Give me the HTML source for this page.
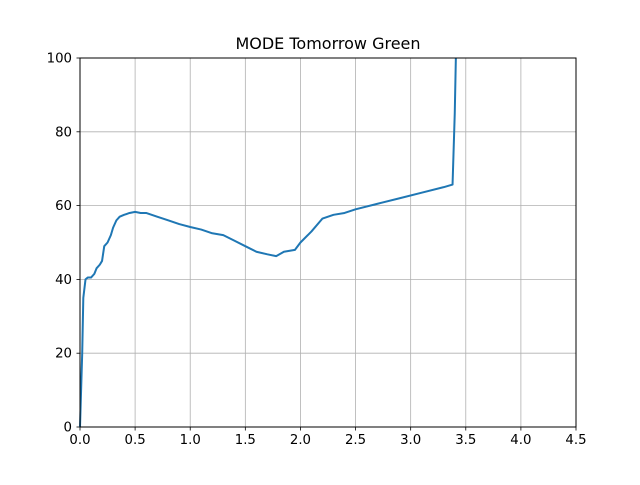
<!DOCTYPE html>
<html><head><meta charset="utf-8"><style>
body{margin:0;background:#fff;}
svg text{font-family:"DejaVu Sans","Liberation Sans",sans-serif;}
</style></head><body>
<svg id="chart" width="640" height="480" viewBox="0 0 640 480">
<rect width="640" height="480" fill="#fff"/>
<text x="328" y="49" text-anchor="middle" font-size="16">MODE Tomorrow Green</text>
<g id="grid"></g>
<g id="ticks"></g>
<polyline id="line" fill="none" stroke="#1f77b4" stroke-width="2" stroke-linejoin="round"/>
<rect x="80" y="58" width="496" height="369" fill="none" stroke="#000" stroke-width="1"/>
</svg>
<script>
const xTicks=[0,0.5,1,1.5,2,2.5,3,3.5,4,4.5];
const xTickLabels=["0.0","0.5","1.0","1.5","2.0","2.5","3.0","3.5","4.0","4.5"];
const yTicks=[0,20,40,60,80,100];
const xVals=[0,0.02,0.03,0.05,0.07,0.1,0.13,0.15,0.18,0.2,0.22,0.25,0.28,0.3,0.33,0.36,0.4,0.45,0.5,0.55,0.6,0.65,0.7,0.8,0.9,1.0,1.1,1.2,1.3,1.4,1.5,1.6,1.7,1.78,1.85,1.95,2.0,2.1,2.2,2.3,2.4,2.5,2.7,2.9,3.1,3.3,3.38,3.4,3.41];
const yVals=[0,20,35,40,40.5,40.5,41.5,43,44,45,49,50,52,54,56,57,57.5,58,58.3,58,58,57.5,57,56,55,54.2,53.5,52.5,52,50.5,49,47.5,46.8,46.3,47.5,48,50,53,56.5,57.5,58,59,60.5,62,63.5,65,65.7,85,100];
const X=v=>80+v/4.5*496, Y=v=>427-v/100*369;
const ns="http://www.w3.org/2000/svg";
const grid=document.getElementById('grid'), ticks=document.getElementById('ticks');
function mk(tag,attrs,parent){const e=document.createElementNS(ns,tag);for(const k in attrs)e.setAttribute(k,attrs[k]);parent.appendChild(e);return e;}
xTicks.forEach((t,i)=>{
 const gl=mk('line',{x1:X(t),x2:X(t),y1:58,y2:427,stroke:'#b0b0b0','stroke-width':0.8},grid);
 
 
 const tk=mk('line',{x1:X(t),x2:X(t),y1:427,y2:430.5,stroke:'#000','stroke-width':0.8},ticks);
 
 
 const tx=mk('text',{x:X(t),y:444,'text-anchor':'middle','font-size':13.3},ticks);
 tx.textContent=xTickLabels[i];
 
 
});
yTicks.forEach(t=>{
 const gl=mk('line',{x1:80,x2:576,y1:Y(t),y2:Y(t),stroke:'#b0b0b0','stroke-width':0.8},grid);
 
 
 const tk=mk('line',{x1:76.5,x2:80,y1:Y(t),y2:Y(t),stroke:'#000','stroke-width':0.8},ticks);
 
 
 const tx=mk('text',{x:72,y:Y(t)+4.5,'text-anchor':'end','font-size':13.3},ticks);
 tx.textContent=String(t);
 
 
});
document.getElementById('line').setAttribute('points',xVals.map((x,i)=>X(x)+','+Y(yVals[i])).join(' '));
</script>
</body></html>
